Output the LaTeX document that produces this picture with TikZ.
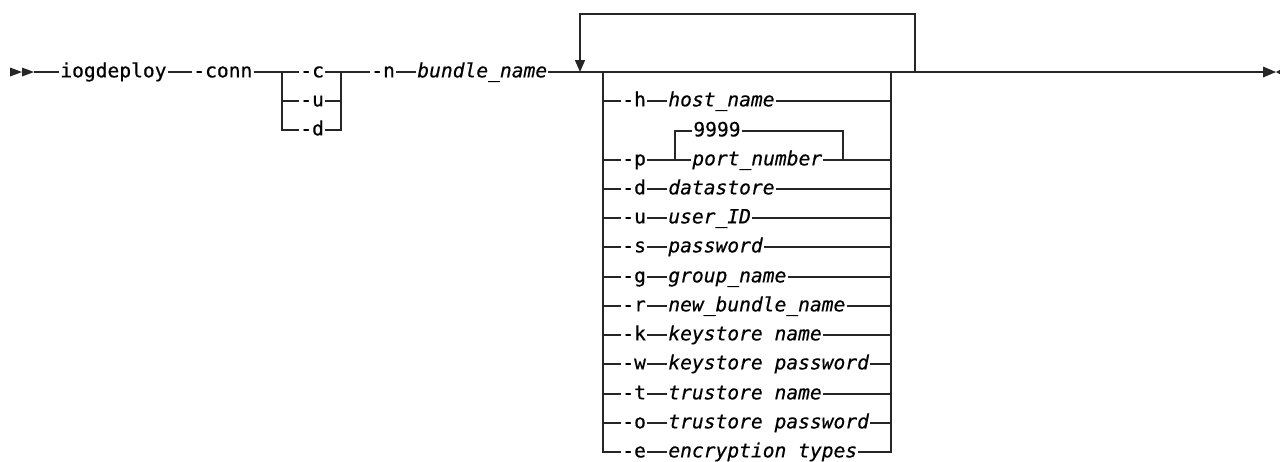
\documentclass[tikz,border=0pt]{standalone}
\usepackage{fontspec}
\newfontfamily\railfont[FakeBold=0.5]{DejaVu Sans Mono}
\usepackage{tikz}
\usetikzlibrary{arrows.meta,positioning}

\begin{document}
\begin{tikzpicture}
	[ x=0.75pt, y=-0.75pt,
		rail/.style={draw=black!85,line width=1.1pt},
		keyword/.style={anchor=west,inner xsep=0.8pt,inner ysep=0pt,text height=10.5pt,text depth=2.5pt,font=\railfont\fontsize{14.7}{17}\selectfont},
		varText/.style={keyword,font=\railfont\itshape\fontsize{14.7}{17}\selectfont},
		arrowLoop/.style={rail,-{Triangle[length=9pt,width=7.5pt]}},
		railEnd/.style={fill=black!85}]

	\useasboundingbox (0,0) rectangle (1280,461);

	% main line
	\coordinate (start) at (34,72);
	\node[keyword] (iogdeploy) at (59,72) {iogdeploy};
	\node[keyword] (conn) at (192,72) {-conn};
	\coordinate (connSplit) at (282,72);
	\node[keyword] (optC) at (299,72) {-c};
	\node[keyword] (optU) at (299,101) {-u};
	\node[keyword] (optD) at (299,130) {-d};
	\coordinate (connJoin) at (341,72);
	\node[keyword] (optN) at (370,72) {-n};
	\node[varText] (bundleName) at (416,72) {bundle\_name};
	\coordinate (loopIn) at (580,72);
	\coordinate (optSplit) at (603,72);
	\coordinate (optJoin) at (891,72);
	\coordinate (loopOut) at (915,72);
	\coordinate (loopTop) at (915,14);
	\coordinate (finish) at (1263,72);

	% options
	\node[keyword] (optH) at (621,101) {-h};
	\node[varText] (hostName) at (667,101) {host\_name};
	\node[keyword] (optP) at (621,160) {-p};
	\coordinate (portSplit) at (675,160);
	\coordinate (portJoin) at (843,160);
	\node[keyword] (portDefault) at (692,131) {9999};
	\node[varText] (portNumber) at (691,160) {port\_number};
	\node[keyword] (optDs) at (621,189) {-d};
	\node[varText] (datastore) at (667,189) {datastore};
	\node[keyword] (optUs) at (621,218) {-u};
	\node[varText] (userID) at (667,218) {user\_ID};
	\node[keyword] (optS) at (621,247) {-s};
	\node[varText] (password) at (667,247) {password};
	\node[keyword] (optG) at (621,277) {-g};
	\node[varText] (groupName) at (667,277) {group\_name};
	\node[keyword] (optR) at (621,306) {-r};
	\node[varText] (newBundleName) at (667,306) {new\_bundle\_name};
	\node[keyword] (optK) at (621,335) {-k};
	\node[varText] (keystoreName) at (667,335) {keystore name};
	\node[keyword] (optW) at (621,364) {-w};
	\node[varText] (keystorePassword) at (667,364) {keystore password};
	\node[keyword] (optT) at (621,394) {-t};
	\node[varText] (truststoreName) at (667,394) {trustore name};
	\node[keyword] (optO) at (621,423) {-o};
	\node[varText] (truststorePassword) at (667,423) {trustore password};
	\node[keyword] (optE) at (621,452) {-e};
	\node[varText] (encryptionTypes) at (667,452) {encryption types};

	% start and end marks
	\fill[railEnd] (10,67.5) -- (22,72) -- (10,76.5) -- cycle;
	\fill[railEnd] (22,67.5) -- (34,72) -- (22,76.5) -- cycle;
	\fill[railEnd] (1263,66.5) -- (1276,72) -- (1263,77.5) -- cycle;
	\fill[railEnd] (1284,67.5) -- (1276,72) -- (1284,76.5) -- cycle;

	\draw[rail] (start) -- (iogdeploy.west);
	\draw[rail] (iogdeploy.east) -- (conn.west);
	\draw[rail] (conn.east) -- (optC.west);
	\draw[rail] (connSplit) |- (optD.west);
	\draw[rail] (connSplit |- optU.west) -- (optU.west);
	\draw[rail] (optC.east) -- (connJoin) -- (optN.west);
	\draw[rail] (optU.east) -- (connJoin |- optU.east);
	\draw[rail] (optD.east) -| (connJoin);
	\draw[rail] (optN.east) -- (bundleName.west);
	\draw[rail] (bundleName.east) -- (finish);
	\draw[arrowLoop] (loopOut) -- (loopTop) -| (loopIn);

	\draw[rail] (optSplit) |- (optE.west);
	\draw[rail] (encryptionTypes.east) -| (optJoin);
	\draw[rail] (optE.east) -- (encryptionTypes.west);
	\draw[rail] (optSplit |- optH.west) -- (optH.west) (optH.east) -- (hostName.west) (hostName.east) -- (optJoin |- optH.west);
	\draw[rail] (optSplit |- optP.west) -- (optP.west) (optP.east) -- (portNumber.west) (portNumber.east) -- (optJoin |- optP.west);
	\draw[rail] (portSplit) |- (portDefault.west);
	\draw[rail] (portDefault.east) -| (portJoin);
	\draw[rail] (optSplit |- optDs.west) -- (optDs.west) (optDs.east) -- (datastore.west) (datastore.east) -- (optJoin |- optDs.west);
	\draw[rail] (optSplit |- optUs.west) -- (optUs.west) (optUs.east) -- (userID.west) (userID.east) -- (optJoin |- optUs.west);
	\draw[rail] (optSplit |- optS.west) -- (optS.west) (optS.east) -- (password.west) (password.east) -- (optJoin |- optS.west);
	\draw[rail] (optSplit |- optG.west) -- (optG.west) (optG.east) -- (groupName.west) (groupName.east) -- (optJoin |- optG.west);
	\draw[rail] (optSplit |- optR.west) -- (optR.west) (optR.east) -- (newBundleName.west) (newBundleName.east) -- (optJoin |- optR.west);
	\draw[rail] (optSplit |- optK.west) -- (optK.west) (optK.east) -- (keystoreName.west) (keystoreName.east) -- (optJoin |- optK.west);
	\draw[rail] (optSplit |- optW.west) -- (optW.west) (optW.east) -- (keystorePassword.west) (keystorePassword.east) -- (optJoin |- optW.west);
	\draw[rail] (optSplit |- optT.west) -- (optT.west) (optT.east) -- (truststoreName.west) (truststoreName.east) -- (optJoin |- optT.west);
	\draw[rail] (optSplit |- optO.west) -- (optO.west) (optO.east) -- (truststorePassword.west) (truststorePassword.east) -- (optJoin |- optO.west);
\end{tikzpicture}
\end{document}
